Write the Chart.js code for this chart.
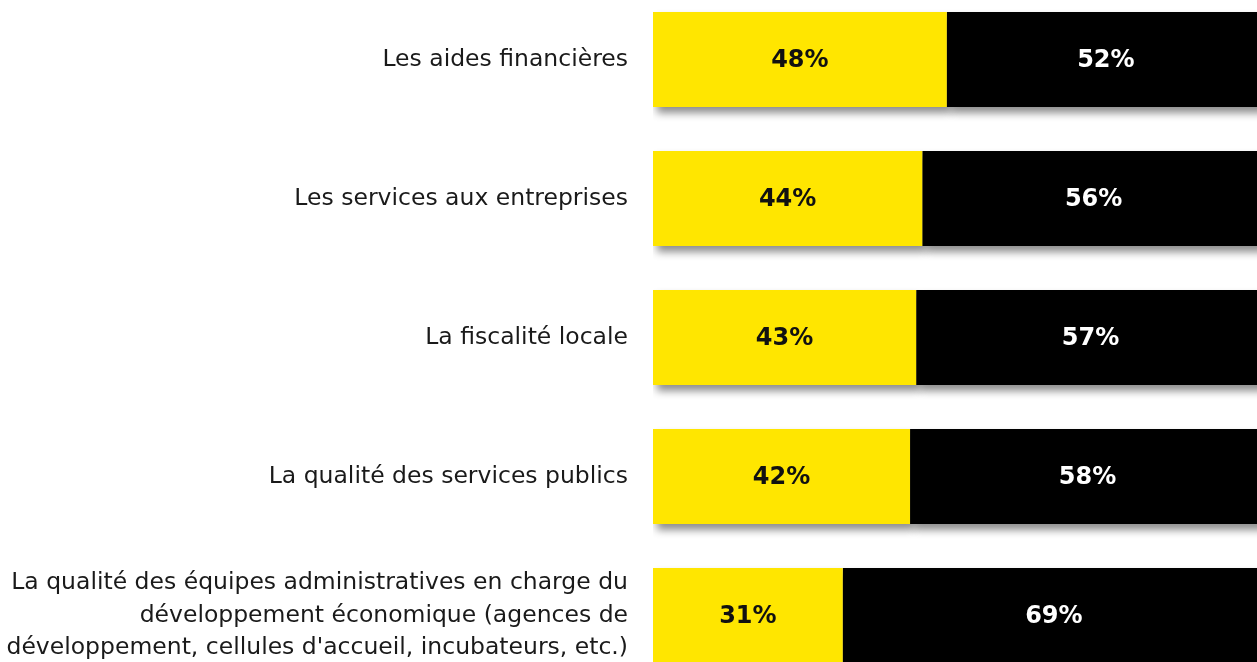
<!DOCTYPE html>
<html>
<head>
<meta charset="utf-8">
<script src="https://cdn.jsdelivr.net/npm/chart.js@4"></script>
<style>
  html, body { margin: 0; padding: 0; background: #fff; overflow: hidden; }
  #wrap { position: absolute; left: 0; top: -10px; width: 1265px; height: 695px; }
</style>
</head>
<body>
<div id="wrap"><canvas id="mycanvas"></canvas></div>
<script>
// data
var categories = [
  'Les aides financières',
  'Les services aux entreprises',
  'La fiscalité locale',
  'La qualité des services publics',
  ['La qualité des équipes administratives en charge du', 'développement économique (agences de', 'développement, cellules d\'accueil, incubateurs, etc.)']
];
var yesValues = [48, 44, 43, 42, 31];
var noValues  = [52, 56, 57, 58, 69];

var FONT = '"DejaVu Sans", sans-serif';

// shadow under the bars + value labels in the middle of each segment
var barDeco = {
  id: 'barDeco',
  beforeDatasetsDraw: function(chart) {
    var ctx = chart.ctx;
    ctx.save();
    ctx.shadowColor = 'rgba(0,0,0,0.45)';
    ctx.shadowBlur = 8;
    ctx.shadowOffsetX = 4;
    ctx.shadowOffsetY = 6;
  },
  afterDatasetsDraw: function(chart) {
    var ctx = chart.ctx;
    ctx.restore();
    ctx.save();
    ctx.font = 'bold 24px ' + FONT;
    ctx.textAlign = 'center';
    ctx.textBaseline = 'middle';
    chart.data.datasets.forEach(function(ds, i) {
      var meta = chart.getDatasetMeta(i);
      meta.data.forEach(function(bar, j) {
        var cx = (bar.x + bar.base) / 2;
        ctx.fillStyle = ds.labelColor;
        ctx.fillText(ds.data[j] + '%', cx, bar.y + 1);
      });
    });
    ctx.restore();
  }
};

var ctx = document.getElementById('mycanvas');
var mycanvas = new Chart(ctx, {
  type: 'bar',
  data: {
    labels: categories,
    datasets: [
      { label: 'Oui', data: yesValues, backgroundColor: '#FFE600', labelColor: '#111', borderWidth: 0 },
      { label: 'Non', data: noValues, backgroundColor: '#000000', labelColor: '#fff', borderWidth: 0 }
    ]
  },
  plugins: [barDeco],
  options: {
    indexAxis: 'y',
    responsive: true,
    maintainAspectRatio: false,
    animation: false,
    events: [],
    layout: { padding: 0 },
    barPercentage: 0.685,
    categoryPercentage: 1,
    plugins: { legend: { display: false }, tooltip: { enabled: false } },
    scales: {
      x: { stacked: true, min: 0, max: 100, display: false },
      y: {
        stacked: true,
        grid: { display: false, drawTicks: false },
        border: { display: false },
        afterFit: function(scale) {
          scale.width = 653;
          scale.paddingTop = 0;
          scale.paddingBottom = 0;
        },
        ticks: {
          padding: 25,
          color: '#1a1a1a',
          font: { family: FONT, size: 23.5, lineHeight: 1.38 }
        }
      }
    }
  }
});
</script>
</body>
</html>
